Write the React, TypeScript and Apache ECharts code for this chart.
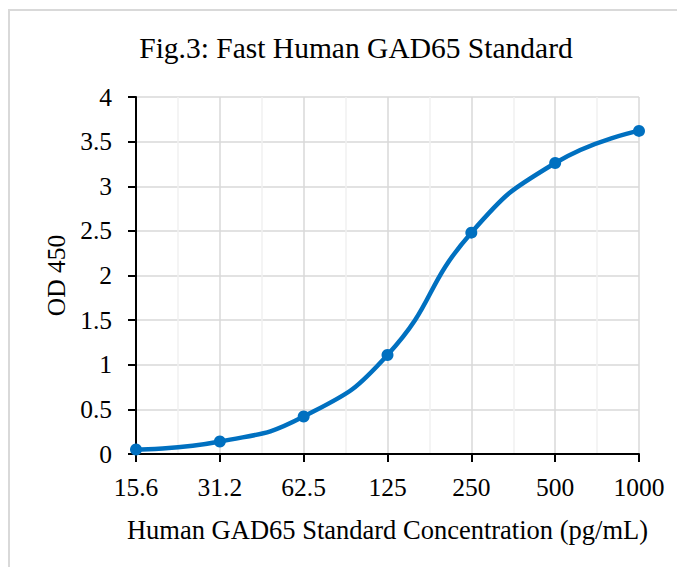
import React, { useEffect, useRef } from "react";
import * as echarts from "echarts";

const categories = ["15.6", "31.2", "62.5", "125", "250", "500", "1000"];
const odValues = [0.05, 0.14, 0.42, 1.11, 2.48, 3.26, 3.62];
const titleText = "Fig.3: Fast Human GAD65 Standard";
const xAxisName = "Human GAD65 Standard Concentration (pg/mL)";
const yAxisName = "OD 450";

const FONT = "'Liberation Serif', 'Times New Roman', serif";

export default function App() {
  const ref = useRef<HTMLDivElement>(null);
  useEffect(() => {
    if (!ref.current) return;
    const chart = echarts.init(ref.current, null, { renderer: "svg" });
    chart.setOption({
      animation: false,
      backgroundColor: "#ffffff",
      title: {
        text: titleText,
        left: 343,
        top: 20,
        textAlign: "center",
        textStyle: { fontFamily: FONT, fontSize: 29.5, fontWeight: "normal", color: "#000" },
      },
      graphic: [
        { type: "line", shape: { x1: 0, y1: 2, x2: 677, y2: 2 }, style: { stroke: "#d9d9d9", lineWidth: 2 } },
        { type: "line", shape: { x1: 1, y1: 2, x2: 1, y2: 559 }, style: { stroke: "#d9d9d9", lineWidth: 2 } },
      ],
      grid: { left: 128, top: 89, right: 46, bottom: 113, containLabel: false },
      xAxis: {
        type: "value",
        min: 0,
        max: categories.length - 1,
        interval: 1,
        name: xAxisName,
        nameLocation: "middle",
        nameGap: 62,
        nameTextStyle: { fontFamily: FONT, fontSize: 26.5, color: "#000" },
        axisLine: { show: true, onZero: false, lineStyle: { color: "#000", width: 2 } },
        axisTick: { show: true, length: 8, lineStyle: { color: "#000", width: 2 } },
        axisLabel: {
          margin: 20,
          fontFamily: FONT,
          fontSize: 25.5,
          color: "#000",
          formatter: (v: number) => categories[Math.round(v)] ?? "",
        },
        splitLine: { show: true, lineStyle: { color: "#d9d9d9", width: 1.5 } },
        minorTick: { show: false, splitNumber: 2 },
        minorSplitLine: { show: true, lineStyle: { color: "#f0f0f0", width: 1.5 } },
      },
      yAxis: {
        type: "value",
        min: 0,
        max: 4,
        interval: 0.5,
        name: yAxisName,
        nameLocation: "middle",
        nameGap: 66,
        nameTextStyle: { fontFamily: FONT, fontSize: 25.5, color: "#000" },
        axisLine: { show: true, lineStyle: { color: "#000", width: 2 } },
        axisTick: { show: true, length: 8, lineStyle: { color: "#000", width: 2 } },
        axisLabel: { margin: 24, fontFamily: FONT, fontSize: 25.5, color: "#000" },
        splitLine: { show: true, lineStyle: { color: "#d9d9d9", width: 1.5 } },
      },
      series: [
        {
          type: "line",
          data: odValues.map((v, i) => [i, v]),
          smooth: 0.5,
          symbol: "circle",
          symbolSize: 12,
          lineStyle: { color: "#0070C0", width: 4.5 },
          itemStyle: { color: "#0070C0" },
          clip: false,
        },
      ],
    });
    return () => chart.dispose();
  }, []);
  return <div ref={ref} style={{ width: 677, height: 559 }} />;
}
